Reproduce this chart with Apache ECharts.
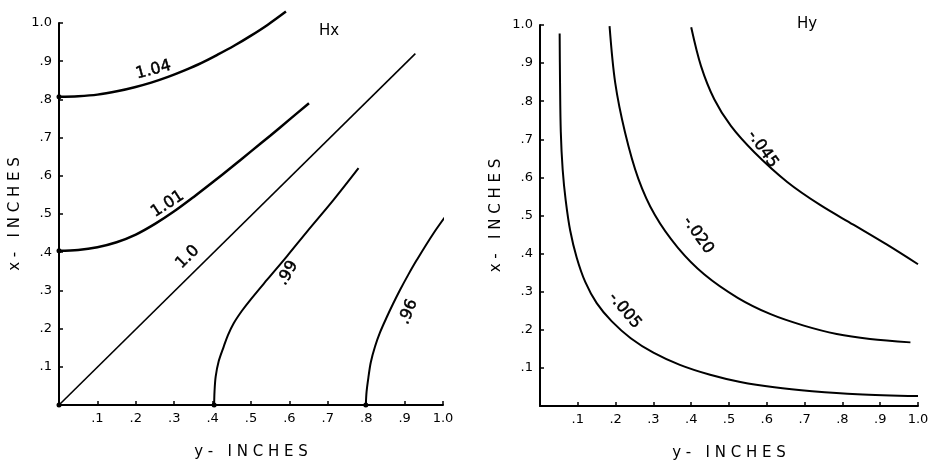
<!DOCTYPE html>
<html>
<head>
<meta charset="utf-8">
<script src="https://cdn.jsdelivr.net/npm/echarts@6/dist/echarts.min.js"></script>
<style>
  html, body { margin: 0; padding: 0; background: #fff; }
  #chart { width: 933px; height: 466px; }
</style>
</head>
<body>
<div id="chart"></div>
<script>
// tick labels for both axes (index = value * 10)
var tickLabels = ['', '.1', '.2', '.3', '.4', '.5', '.6', '.7', '.8', '.9', '1.0']

// Hx contours, points are [y-inches, x-inches]
var hx104 = [[0, 0.807], [0.05, 0.8085], [0.1, 0.8125], [0.154, 0.822], [0.197, 0.832], [0.24, 0.844], [0.284, 0.859], [0.327, 0.876], [0.37, 0.895], [0.413, 0.917], [0.457, 0.941], [0.5, 0.967], [0.543, 0.995], [0.591, 1.03]]
var hx101 = [[0, 0.404], [0.05, 0.406], [0.1, 0.413], [0.15, 0.426], [0.2, 0.446], [0.25, 0.474], [0.3, 0.507], [0.35, 0.544], [0.4, 0.583], [0.45, 0.623], [0.5, 0.664], [0.55, 0.705], [0.6, 0.747], [0.651, 0.79]]
var hx100 = [[0, 0], [0.928, 0.92]]
var hx099 = [[0.404, 0], [0.405, 0.035], [0.408, 0.074], [0.416, 0.115], [0.429, 0.153], [0.44, 0.183], [0.455, 0.214], [0.476, 0.246], [0.499, 0.276], [0.542, 0.328], [0.594, 0.39], [0.646, 0.454], [0.715, 0.537], [0.78, 0.62]]
var hx096 = [[0.799, 0], [0.801, 0.035], [0.806, 0.074], [0.812, 0.112], [0.823, 0.153], [0.836, 0.19], [0.854, 0.231], [0.87, 0.265], [0.888, 0.301], [0.909, 0.34], [0.932, 0.38], [0.975, 0.449], [1.018, 0.51], [1.032, 0.53]]
var hxLabels = ['1.04', '1.01', '1.0', '.99', '.96']
var hxLabelPos = [[0.246, 0.877], [0.283, 0.526], [0.335, 0.387], [0.596, 0.345], [0.91, 0.244]]
var hxLabelRot = [15, 33, 45, 60, 68]

// Hy contours
var hy005 = [[0.052, 0.978], [0.053, 0.85], [0.055, 0.72], [0.06, 0.62], [0.068, 0.54], [0.08, 0.46], [0.097, 0.39], [0.12, 0.325], [0.15, 0.27], [0.19, 0.222], [0.24, 0.178], [0.3, 0.14], [0.37, 0.108], [0.45, 0.082], [0.53, 0.063], [0.62, 0.049], [0.72, 0.039], [0.84, 0.031], [1.0, 0.026]]
var hy020 = [[0.184, 0.997], [0.199, 0.848], [0.225, 0.718], [0.26, 0.597], [0.304, 0.501], [0.365, 0.415], [0.435, 0.345], [0.523, 0.284], [0.61, 0.241], [0.698, 0.211], [0.785, 0.189], [0.873, 0.176], [0.98, 0.167]]
var hy045 = [[0.40, 0.994], [0.426, 0.892], [0.461, 0.805], [0.505, 0.735], [0.567, 0.666], [0.654, 0.588], [0.742, 0.527], [0.829, 0.476], [0.917, 0.424], [1.0, 0.372]]
var hyLabels = ['-.045', '-.020', '-.005']
var hyLabelPos = [[0.589, 0.674], [0.418, 0.448], [0.224, 0.25]]
var hyLabelRot = [-55, -55, -50]

var font = ['DejaVu Sans', 'sans-serif']
var ink = '#000'

function axis(type, grid) {
  return {
    type: 'value',
    gridIndex: grid,
    min: 0,
    max: 1,
    interval: 0.1,
    name: type == 'x' ? 'y -   I N C H E S' : 'x -   I N C H E S',
    nameLocation: 'middle',
    nameGap: type == 'x' ? 40 : 36,
    nameRotate: type == 'x' ? 0 : 90,
    nameTextStyle: { color: ink, fontSize: 15, fontFamily: font },
    splitLine: { show: false },
    axisLine: { lineStyle: { color: ink, width: 2 } },
    axisTick: { inside: true, length: 4, lineStyle: { color: ink, width: 1.5 } },
    axisLabel: {
      color: ink,
      fontSize: 13,
      fontFamily: font,
      margin: 7,
      formatter: function (v) { return tickLabels[Math.round(v * 10)] }
    }
  }
}

function curve(data, grid, width) {
  return {
    type: 'line',
    xAxisIndex: grid,
    yAxisIndex: grid,
    data: data,
    smooth: 0.33,
    clip: false,
    symbol: 'none',
    lineStyle: { color: ink, width: width },
    silent: true
  }
}

// contour value labels, placed in data coords next to each curve
function labels(text, pos, rot, grid) {
  return {
    type: 'scatter',
    xAxisIndex: grid,
    yAxisIndex: grid,
    symbolSize: 0,
    silent: true,
    itemStyle: { opacity: 1 },
    data: pos.map(function (p, i) {
      return {
        value: p,
        label: {
          show: true,
          position: 'inside',
          formatter: text[i],
          rotate: rot[i],
          color: ink,
          opacity: 1,
          textBorderColor: ink,
          textBorderWidth: 0.5,
          fontSize: 16,
          fontFamily: font
        }
      }
    })
  }
}

var chart = echarts.init(document.getElementById('chart'))
var option = {
  backgroundColor: '#fff',
  animation: false,
  title: [
    { text: 'Hx', left: 314, top: 19, textStyle: { color: ink, fontSize: 15, fontWeight: 'normal', fontFamily: font } },
    { text: 'Hy', left: 792, top: 12, textStyle: { color: ink, fontSize: 15, fontWeight: 'normal', fontFamily: font } }
  ],
  grid: [
    { left: 59, top: 23, width: 384, height: 382 },
    { left: 540, top: 25, width: 378, height: 384 }
  ],
  xAxis: [axis('x', 0), axis('x', 1)],
  yAxis: [axis('y', 0), axis('y', 1)],
  series: [
    curve(hx104, 0, 2.5),
    curve(hx101, 0, 2.5),
    curve(hx100, 0, 1.6),
    curve(hx099, 0, 2),
    curve(hx096, 0, 2),
    {
      type: 'scatter',
      xAxisIndex: 0,
      yAxisIndex: 0,
      symbolSize: 5,
      silent: true,
      itemStyle: { color: ink, opacity: 1 },
      data: [hx104[0], hx101[0], hx100[0], hx099[0], hx096[0]]
    },
    labels(hxLabels, hxLabelPos, hxLabelRot, 0),
    curve(hy005, 1, 2),
    curve(hy020, 1, 2),
    curve(hy045, 1, 2),
    labels(hyLabels, hyLabelPos, hyLabelRot, 1)
  ]
}
chart.setOption(option)
</script>
</body>
</html>
